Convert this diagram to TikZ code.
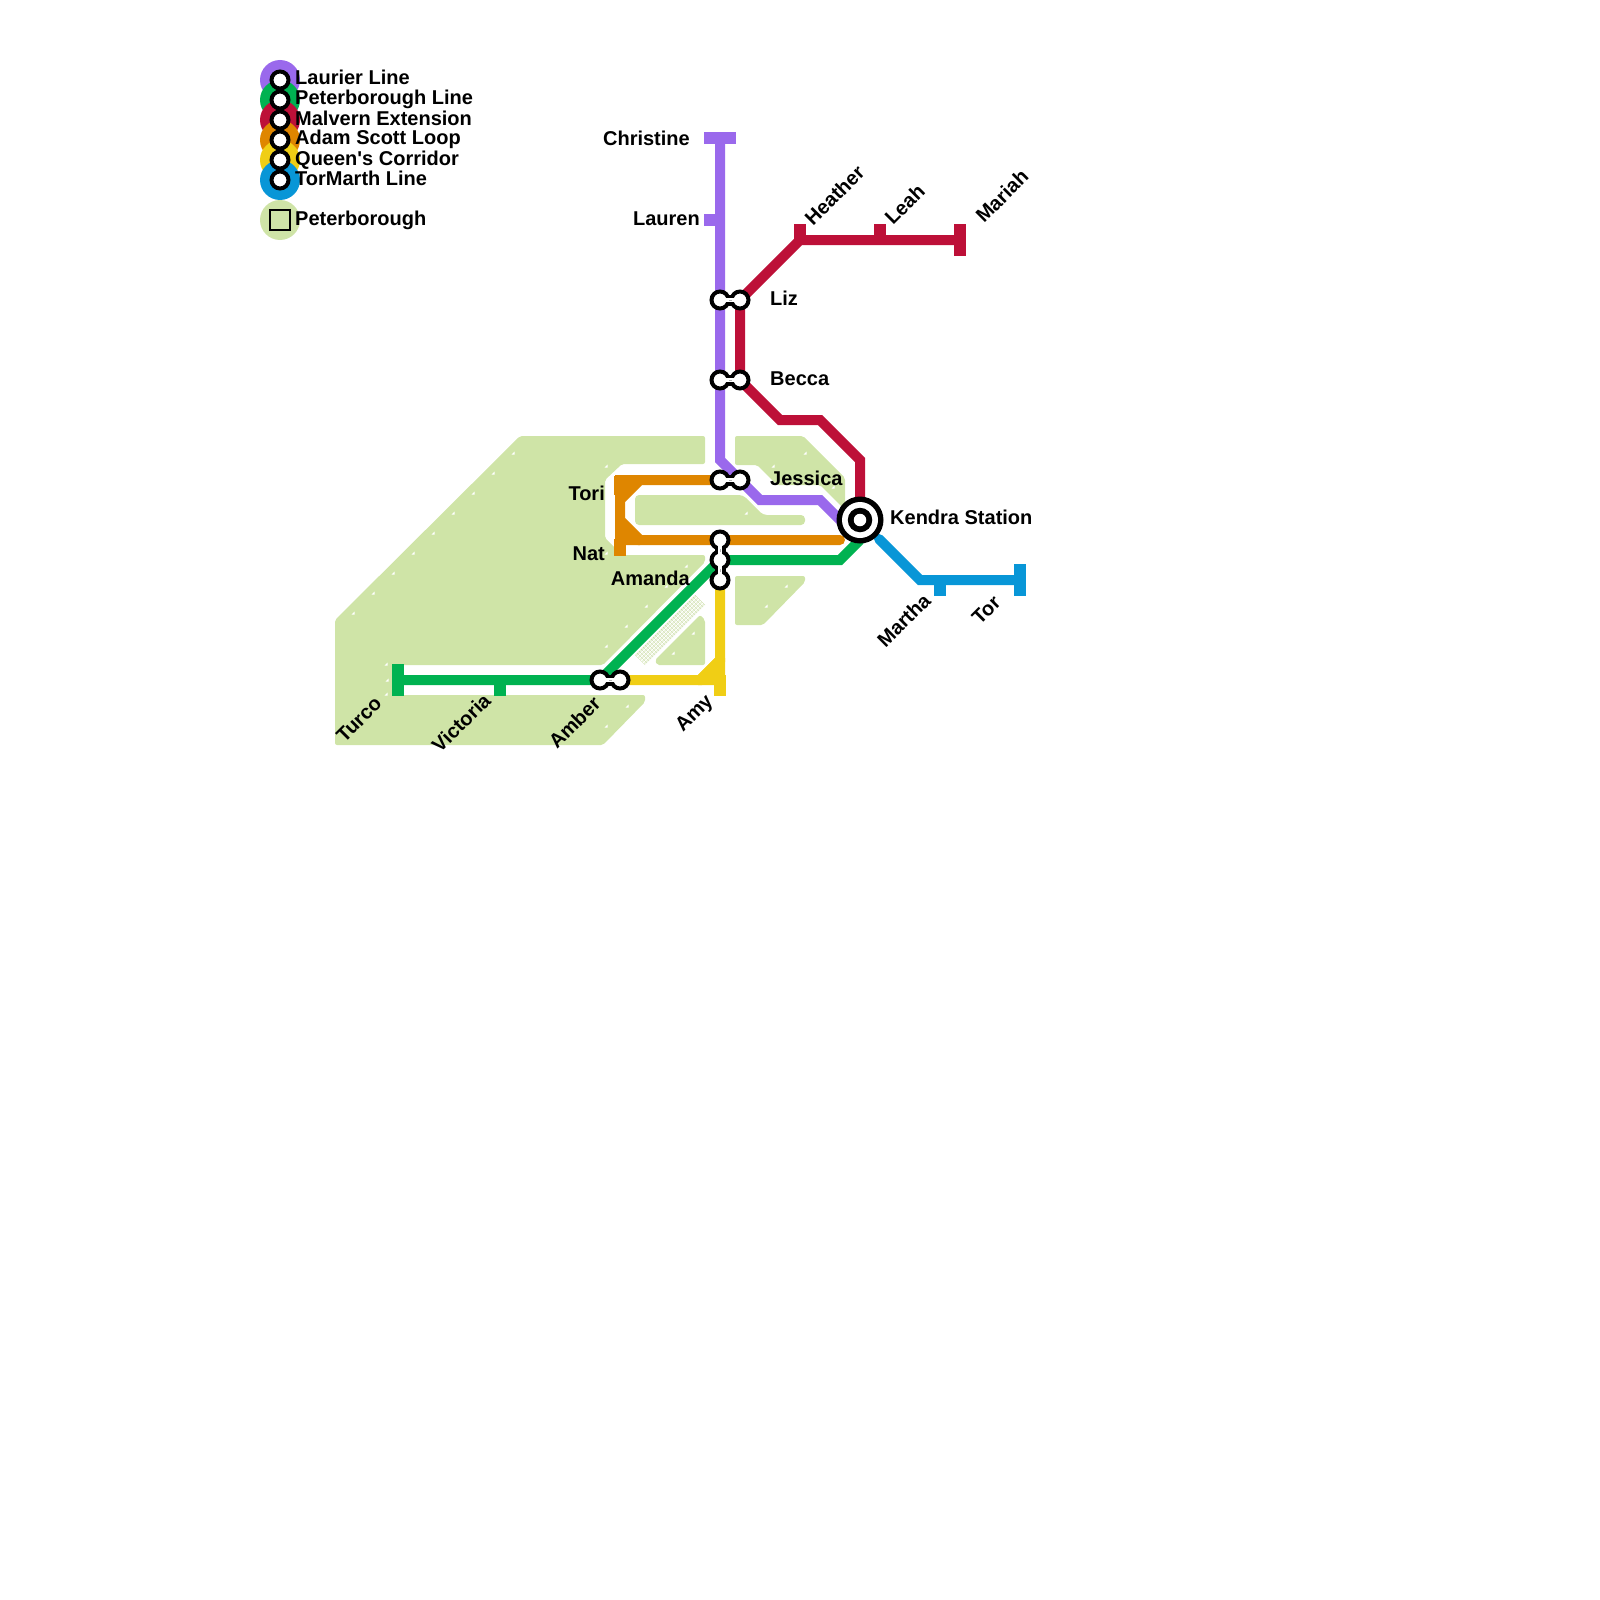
\documentclass[tikz,border=0pt]{standalone}
\usepackage{fontspec}
\setmainfont{Liberation Sans}[Ligatures=TeXOff]
\definecolor{cPurple}{HTML}{9A69EC}
\definecolor{cGreen}{HTML}{00B251}
\definecolor{cRed}{HTML}{BD1038}
\definecolor{cOrange}{HTML}{DF8600}
\definecolor{cYellow}{HTML}{F0CE15}
\definecolor{cBlue}{HTML}{0896D7}
\definecolor{cPark}{HTML}{CFE4A7}
\tikzset{
  metro/.style={line width=10pt,draw=#1},
  stub/.style={line width=12pt,draw=#1},
  park/.style={fill=cPark,rounded corners=2pt},
  ring/.style={circle,draw=black,fill=white,line width=4pt,minimum size=17pt,inner sep=0pt},
  lab/.style={font=\fontsize{20}{24}\selectfont\bfseries,inner sep=0pt,text=black},
  labE/.style={lab,anchor=base east},
  labW/.style={lab,anchor=base west},
  labRW/.style={lab,anchor=base west,rotate=45},
  labRE/.style={lab,anchor=base east,rotate=45},
  neckOut/.style={line width=11pt,draw=black},
  neckIn/.style={line width=3.5pt,draw=white},
  neckMid/.style={line width=1pt,draw=black!30},
  swatch/.style={circle,minimum size=40pt,inner sep=0pt},
  dot/.pic={\fill[white] (-1.5,1.5)--(1.5,1.5)--(1.5,-1.5)--cycle;}
}
\begin{document}
\begin{tikzpicture}[x=1pt,y=-1pt]
\useasboundingbox (0,0) rectangle (1600,1600);
% named stops
\coordinate (pTurco) at (398,680);
\coordinate (pVictoria) at (500,680);
\coordinate (pAmberA) at (600,680);
\coordinate (pAmberB) at (620,680);
\coordinate (pAmy) at (720,680);
\coordinate (pChristine) at (720,138);
\coordinate (pLauren) at (720,220);
\coordinate (pLizA) at (720,300);
\coordinate (pLizB) at (740,300);
\coordinate (pBeccaA) at (720,380);
\coordinate (pBeccaB) at (740,380);
\coordinate (pJessA) at (720,480);
\coordinate (pJessB) at (740,480);
\coordinate (pAmA) at (720,540);
\coordinate (pAmB) at (720,560);
\coordinate (pAmC) at (720,580);
\coordinate (pKendra) at (860,520);
\coordinate (pHeather) at (800,240);
\coordinate (pLeah) at (880,240);
\coordinate (pMariah) at (960,240);
\coordinate (pMartha) at (940,580);
\coordinate (pTor) at (1020,580);
\coordinate (pTori) at (620,480);
\coordinate (pNat) at (620,540);
% parks
\fill[park] (520,436)--(705,436)--(705,464)--(622,464)--(605,480)--(605,538)--(622,555)--(705,555)--(705,562)--(603,665)--(392,665)--(392,695)--(645,695)--(645,702)--(603,745)--(335,745)--(335,620)--cycle;
\fill[park] (735,436)--(803,436)--(845,478)--(845,510)--(820,485)--(777,485)--(757,465)--(735,465)--cycle;
\fill[park,rounded corners=4pt] (635,495)--(743,495)--(763,515)--(805,515)--(805,525)--(635,525)--cycle;
\fill[park] (735,576)--(805,576)--(805,582)--(763,625)--(735,625)--cycle;
\fill[park] (700,615)--(705,620)--(705,665)--(657,665)--(655,660)--cycle;
% hatch
\begin{scope}
\clip (695,595)--(705,605)--(645,665)--(635,655)--cycle;
\fill[cPark!40] (695,595)--(705,605)--(645,665)--(635,655)--cycle;
\foreach \t in {0,1,...,31}{\draw[cPark!95!black,line width=.7pt] (633+2*\t,657-2*\t)--(647+2*\t,671-2*\t);}
\foreach \t in {0,1,2,3,4}{\draw[white,line width=.9pt] (637+2*\t,657+2*\t)--(697+2*\t,597+2*\t);}
\end{scope}
\foreach \x/\y in {513/453,493/473,473/493,453/513,433/533,413/553,393/573,373/593,353/613,606/466,606/553,626/533,627/486,686/566,666/586,646/606,626/626,606/646,386/664,386/694,387/680,627/706,606/726,693/633,673/653,713/673,805/453,773/466,833/487,746/513,786/586,766/606}{\pic at (\x,\y) {dot};}
% lines
\draw[metro=cYellow] (pAmberB)--(700,680)--(720,660)--(pAmC);
\fill[cYellow] (698,675)--(715,658)--(725,658)--(725,685)--(698,685)--cycle;
\draw[stub=cYellow] (pAmy)--++(0,16);
\draw[stub=cYellow,line width=10pt] (pAmberB)--(726,680);
\draw[metro=cPurple] (pChristine)--(pLizA)--(pBeccaA)--(720,460)--(760,500)--(820,500)--(845,525);
\draw[stub=cPurple] (704,138)--(736,138);
\draw[stub=cPurple] (704,220)--(pLauren);
\draw[metro=cOrange,line cap=round] (pJessA)--(640,480)--(620,500)--(620,520)--(640,540)--(840,540);
\fill[cOrange] (615,475)--(640,475)--(640,485)--(625,500)--(615,500)--cycle;
\fill[cOrange] (615,520)--(625,520)--(640,535)--(640,545)--(615,545)--cycle;
\draw[stub=cOrange] (620,476)--(620,495);
\draw[stub=cOrange] (620,539)--(620,556);
\draw[metro=cGreen] (pTurco)--(pAmberA)--(pAmB)--(840,560)--(860,540);
\draw[stub=cGreen] (398,664)--(398,696);
\draw[stub=cGreen] (pVictoria)--++(0,16);
\draw[metro=cRed] (pLizB)--(pHeather)--(pLeah)--(pMariah);
\draw[metro=cRed] (pLizB)--(pBeccaB)--(780,420)--(820,420)--(860,460)--(pKendra);
\draw[stub=cRed] (pHeather)--(800,224);
\draw[stub=cRed] (pLeah)--(880,224);
\draw[stub=cRed] (960,224)--(960,256);
\draw[metro=cBlue,line cap=round] (879,539)--(920,580)--(1020,580);
\draw[stub=cBlue] (pMartha)--(940,596);
\draw[stub=cBlue] (1020,564)--(1020,596);
% interchanges
\foreach \a/\b in {pLizA/pLizB,pBeccaA/pBeccaB,pJessA/pJessB,pAmA/pAmB,pAmB/pAmC,pAmberA/pAmberB}{\draw[neckOut] (\a)--(\b);}
\node[ring] (sLizA) at (pLizA) {};
\node[ring] (sLizB) at (pLizB) {};
\node[ring] (sBeccaA) at (pBeccaA) {};
\node[ring] (sBeccaB) at (pBeccaB) {};
\node[ring] (sJessA) at (pJessA) {};
\node[ring] (sJessB) at (pJessB) {};
\node[ring] (sAmA) at (pAmA) {};
\node[ring] (sAmB) at (pAmB) {};
\node[ring] (sAmC) at (pAmC) {};
\node[ring] (sAmberA) at (pAmberA) {};
\node[ring] (sAmberB) at (pAmberB) {};
\foreach \a/\b in {sLizA/sLizB,sBeccaA/sBeccaB,sJessA/sJessB,sAmA/sAmB,sAmB/sAmC,sAmberA/sAmberB}{\draw[neckIn,shorten >=-4pt,shorten <=-4pt] (\a)--(\b); \draw[neckMid,shorten >=-1pt,shorten <=-1pt] (\a)--(\b);}
% Kendra
\node[circle,fill=black,minimum size=47pt,inner sep=0pt] (kA) at (pKendra) {};
\node[circle,fill=white,minimum size=36pt,inner sep=0pt] (kB) at (pKendra) {};
\node[circle,fill=black,minimum size=24.5pt,inner sep=0pt] (kC) at (pKendra) {};
\node[circle,fill=white,minimum size=12.5pt,inner sep=0pt] (kD) at (pKendra) {};
% labels
\node[labE] (tChristine) at (690,146) {Christine};
\node[labE] (tLauren) at (700,225) {Lauren};
\node[labW] (tLiz) at (770,305) {Liz};
\node[labW] (tBecca) at (770,385) {Becca};
\node[labW] (tJessica) at (770,485) {Jessica};
\node[labW] (tKendra) at (890,524) {Kendra Station};
\node[labE] (tTori) at (605,500) {Tori};
\node[labE] (tNat) at (605,560) {Nat};
\node[labE] (tAmanda) at (690,585) {Amanda};
\node[labRW] (tHeather) at (813,227) {Heather};
\node[labRW] (tLeah) at (893,226) {Leah};
\node[labRW] (tMariah) at (984,224) {Mariah};
\node[labRE] (tTurco) at (383,705) {Turco};
\node[labRE] (tVictoria) at (492,702) {Victoria};
\node[labRE] (tAmber) at (602,705) {Amber};
\node[labRE] (tAmy) at (714,702) {Amy};
\node[labRE] (tMartha) at (932,602) {Martha};
\node[labRE] (tTor) at (1002,604) {Tor};
% legend
\foreach \n/\c/\y in {a/cPurple/80,b/cGreen/100,c/cRed/120,d/cOrange/140,e/cYellow/160,f/cBlue/180}{\node[swatch,fill=\c] (sw\n) at (280,\y) {};}
\foreach \n/\y in {a/80,b/100,c/120,d/140,e/160,f/180}{\node[ring] (rg\n) at (280,\y) {};}
\node[swatch,fill=cPark] (swg) at (280,220) {};
\node[draw=black,fill=cPark,line width=2pt,minimum size=19.5pt,inner sep=0pt] (sqg) at (280,220) {};
\node[labW] (l1) at (295,85) {Laurier Line};
\node[labW] (l2) at (295,105) {Peterborough Line};
\node[labW] (l3) at (295,125) {Malvern Extension};
\node[labW] (l4) at (295,145) {Adam Scott Loop};
\node[labW] (l5) at (295,165) {Queen's Corridor};
\node[labW] (l6) at (295,185) {TorMarth Line};
\node[labW] (l7) at (295,225) {Peterborough};
\end{tikzpicture}
\end{document}
